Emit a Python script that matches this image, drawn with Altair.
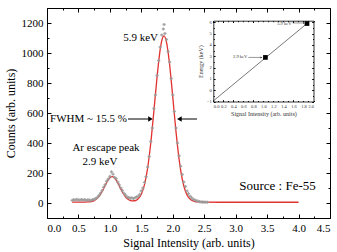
import altair as alt
import pandas as pd

# ---- Fe-55 pulse-height spectrum: fitted curve -------------------------
fit_x = [0.40, 0.45, 0.50, 0.55, 0.60, 0.65, 0.70, 0.75, 0.80, 0.85, 0.90,
         0.95, 0.975, 1.00, 1.035, 1.07, 1.10, 1.15, 1.20, 1.25, 1.30, 1.35,
         1.40, 1.45, 1.50, 1.55, 1.60, 1.65, 1.70, 1.75, 1.80, 1.83, 1.86,
         1.90, 1.95, 2.00, 2.05, 2.10, 2.15, 2.20, 2.25, 2.30, 2.35, 2.40,
         2.50, 2.75, 3.00, 3.25, 3.50, 3.75, 4.00]
fit_counts = [6, 6, 6, 6, 6, 7, 9, 16, 31, 58, 96,
              138, 156, 169, 176, 169, 153, 113, 72, 40, 22, 14,
              15, 28, 59, 122, 233, 400, 614, 840, 1024, 1091, 1114,
              1073, 922, 705, 481, 293, 160, 80, 37, 18, 10, 7,
              6, 5, 5, 5, 5, 5, 5]

# ---- measured counts -------------------------------------------------
sig_x = [0.400, 0.425, 0.450, 0.475, 0.500, 0.525, 0.550, 0.575, 0.600,
         0.625, 0.650, 0.675, 0.700, 0.725, 0.750, 0.775, 0.800, 0.825,
         0.850, 0.875, 0.900, 0.925, 0.950, 0.975, 1.000, 1.025, 1.050,
         1.075, 1.100, 1.125, 1.150, 1.175, 1.200, 1.225, 1.250, 1.275,
         1.300, 1.325, 1.350, 1.375, 1.400, 1.425, 1.450, 1.475, 1.500,
         1.525, 1.550, 1.575, 1.600, 1.625, 1.650, 1.675, 1.700, 1.725,
         1.750, 1.775, 1.800, 1.825, 1.850, 1.862, 1.875, 1.900, 1.925,
         1.950, 1.975, 2.000, 2.025, 2.050, 2.075, 2.100, 2.125, 2.150,
         2.175, 2.200, 2.225, 2.250, 2.275, 2.300, 2.325, 2.350, 2.375,
         2.400, 2.425, 2.450, 2.475, 2.500, 2.525, 2.550]
sig_counts = [18, 22, 20, 24, 19, 21, 23, 20, 22,
              18, 21, 19, 17, 22, 24, 30, 38, 50,
              65, 82, 104, 122, 145, 160, 178, 208, 192,
              170, 162, 140, 121, 100, 82, 64, 52, 40,
              36, 32, 34, 30, 36, 40, 46, 58, 80,
              100, 138, 175, 240, 310, 410, 500, 630, 720,
              850, 950, 1040, 1120, 1160, 1190, 1130, 1090, 1010,
              940, 830, 720, 610, 500, 400, 315, 245, 190,
              140, 110, 80, 62, 45, 34, 25, 20, 14,
              12, 9, 8, 6, 6, 5, 5]

# ---- inset: energy calibration -----------------------------------------
cal_signal = [1.04, 1.87]
cal_energy = [2.9, 5.9]
cal_line_signal = [0.0, 1.87]
cal_line_energy = [-0.95, 5.9]

# ---- axis tick positions ---------------------------------------------
x_major = [0.0, 0.5, 1.0, 1.5, 2.0, 2.5, 3.0, 3.5, 4.0, 4.5]
x_ticks = [0.0, 0.25, 0.5, 0.75, 1.0, 1.25, 1.5, 1.75, 2.0, 2.25, 2.5, 2.75,
           3.0, 3.25, 3.5, 3.75, 4.0, 4.25, 4.5]
y_major = [0, 200, 400, 600, 800, 1000, 1200]
y_ticks = [-100, 0, 100, 200, 300, 400, 500, 600, 700, 800, 900, 1000,
           1100, 1200, 1300]
ix_major = [0.0, 0.2, 0.4, 0.6, 0.8, 1.0, 1.2, 1.4, 1.6, 1.8, 2.0]
ix_ticks = [0.0, 0.1, 0.2, 0.3, 0.4, 0.5, 0.6, 0.7, 0.8, 0.9, 1.0, 1.1, 1.2,
            1.3, 1.4, 1.5, 1.6, 1.7, 1.8, 1.9, 2.0]
iy_major = [-1, 0, 1, 2, 3, 4, 5, 6]
iy_ticks = [-1, -0.5, 0, 0.5, 1, 1.5, 2, 2.5, 3, 3.5, 4, 4.5, 5, 5.5, 6]

W, H = 283, 210
FONT = "Liberation Serif"
RED = "#e0322f"

fit = pd.DataFrame({"x": fit_x, "c": fit_counts})
sig = pd.DataFrame({"x": sig_x, "c": sig_counts})

xs = alt.Scale(domain=[0, 4.5], nice=False, zero=False)
ys = alt.Scale(domain=[-100, 1300], nice=False, zero=False)


def tick_size(step, big, small):
    return {"condition": {"test": f"datum.value % {step} != 0", "value": small},
            "value": big}


# ---- main spectrum ---------------------------------------------------
curve = alt.Chart(fit).mark_line(color=RED, strokeWidth=1.3,
                                 interpolate="monotone").encode(
    x=alt.X("x:Q", scale=xs, axis=None),
    y=alt.Y("c:Q", scale=ys, axis=None),
)

points = alt.Chart(sig).mark_point(shape="cross", filled=True, size=10,
                                   color="#9a9a9a", opacity=0.9).encode(
    x=alt.X("x:Q", scale=xs, axis=None),
    y=alt.Y("c:Q", scale=ys, axis=None),
)


def label(df, **kw):
    return alt.Chart(pd.DataFrame(df)).mark_text(
        font=FONT, baseline="middle", color="black", **kw).encode(
        x=alt.X("x:Q", scale=xs, axis=None),
        y=alt.Y("c:Q", scale=ys, axis=None),
        text="t:N",
    )


lbl_peak = label({"x": [1.765], "c": [1100], "t": ["5.9 keV"]},
                 align="right", fontSize=11)
lbl_fwhm = label({"x": [0.048], "c": [560], "t": ["FWHM ~ 15.5 %"]},
                 align="left", fontSize=11)
lbl_esc = label({"x": [0.938, 0.843], "c": [367, 273],
                 "t": ["Ar escape peak", "2.9 keV"]},
                align="center", fontSize=11)
lbl_src = label({"x": [3.665], "c": [113], "t": ["Source : Fe-55"]},
                align="center", fontSize=13)

arrows = pd.DataFrame({"x": [1.288, 2.385], "x2": [1.64, 2.11],
                       "c": [560, 560]})
arrow_lines = alt.Chart(arrows).mark_rule(color="black", strokeWidth=1).encode(
    x=alt.X("x:Q", scale=xs, axis=None), x2="x2:Q",
    y=alt.Y("c:Q", scale=ys, axis=None))
head_r = alt.Chart(pd.DataFrame({"x": [1.645], "c": [560]})).mark_point(
    shape="triangle-right", filled=True, size=28, color="black",
    opacity=1).encode(x=alt.X("x:Q", scale=xs, axis=None),
                      y=alt.Y("c:Q", scale=ys, axis=None))
head_l = alt.Chart(pd.DataFrame({"x": [2.105], "c": [560]})).mark_point(
    shape="triangle-left", filled=True, size=28, color="black",
    opacity=1).encode(x=alt.X("x:Q", scale=xs, axis=None),
                      y=alt.Y("c:Q", scale=ys, axis=None))

main = alt.layer(curve, points, arrow_lines, head_r, head_l,
                 lbl_peak, lbl_fwhm, lbl_esc, lbl_src)


# ---- axis-only layers (labels, and inward ticks on every side) ----------
def axis_layer(df, xf, yf, xs_, ys_, xaxis, yaxis):
    return alt.Chart(df).mark_point(opacity=0).encode(
        x=alt.X(xf, scale=xs_, axis=xaxis),
        y=alt.Y(yf, scale=ys_, axis=yaxis))


def tick_axis(orient, offset, values, size, step, domain=False):
    return alt.Axis(orient=orient, offset=offset, values=values,
                    labels=False, title=None, grid=False, domain=domain,
                    domainColor="black", domainWidth=0.8,
                    tickColor="black", tickWidth=1,
                    tickSize=tick_size(step, size[0], size[1]))


main_labels = axis_layer(
    fit, "x:Q", "c:Q", xs, ys,
    alt.Axis(orient="bottom", values=x_major, format=".1f", ticks=False,
             domain=False, grid=False, labelFontSize=11, labelPadding=4,
             labelFont=FONT, labelColor="black",
             title="Signal Intensity (arb. units)", titleFont=FONT,
             titleFontSize=12, titleFontWeight="normal", titlePadding=4,
             titleColor="black"),
    alt.Axis(orient="left", values=y_major, format="d", ticks=False,
             domain=False, grid=False, labelFontSize=11, labelPadding=4,
             labelFont=FONT, labelColor="black",
             title="Counts (arb. units)", titleFont=FONT,
             titleFontSize=12, titleFontWeight="normal", titlePadding=4,
             titleColor="black"))
main_ticks_bl = axis_layer(
    fit, "x:Q", "c:Q", xs, ys,
    tick_axis("top", -H, x_ticks, (4, 2), 0.5),
    tick_axis("right", -W, y_ticks, (4, 2), 200))
main_ticks_tr = axis_layer(
    fit, "x:Q", "c:Q", xs, ys,
    tick_axis("bottom", -H, x_ticks, (4, 2), 0.5),
    tick_axis("left", -W, y_ticks, (4, 2), 200))

# ---- inset: calibration line --------------------------------------------
X0, X1, YT, YB = 166.3, 266.5, 12.7, 93.5
ixs = alt.Scale(domain=[0, 2], range=[X0, X1], nice=False, zero=False)
iys = alt.Scale(domain=[-1, 6.15], range=[YB, YT], nice=False, zero=False)

cal = pd.DataFrame({"s": cal_signal, "e": cal_energy})
cal_line = pd.DataFrame({"s": cal_line_signal, "e": cal_line_energy})

inset_line = alt.Chart(cal_line).mark_line(color="#555555",
                                           strokeWidth=0.8).encode(
    x=alt.X("s:Q", scale=ixs, axis=None),
    y=alt.Y("e:Q", scale=iys, axis=None),
)
inset_pts = alt.Chart(cal).mark_square(size=22, color="black",
                                       opacity=1).encode(
    x=alt.X("s:Q", scale=ixs, axis=None),
    y=alt.Y("e:Q", scale=iys, axis=None))

inset_text = alt.Chart(pd.DataFrame({
    "s": [0.68, 1.56], "e": [2.9, 5.9], "t": ["2.9 keV", "5.9 keV"]})
).mark_text(font=FONT, fontSize=4.5, align="right", baseline="middle",
            color="#333333").encode(
    x=alt.X("s:Q", scale=ixs, axis=None),
    y=alt.Y("e:Q", scale=iys, axis=None), text="t:N")

inset_arrows = pd.DataFrame({"s": [0.70, 1.58], "s2": [0.96, 1.81],
                             "e": [2.9, 5.95]})
inset_arrow_lines = alt.Chart(inset_arrows).mark_rule(
    color="#333333", strokeWidth=0.5).encode(
    x=alt.X("s:Q", scale=ixs, axis=None), x2="s2:Q",
    y=alt.Y("e:Q", scale=iys, axis=None))
inset_heads = alt.Chart(pd.DataFrame({"s": [0.96, 1.81], "e": [2.9, 5.95]})
                        ).mark_point(shape="triangle-right", filled=True,
                                     size=4, color="#333333",
                                     opacity=1).encode(
    x=alt.X("s:Q", scale=ixs, axis=None),
    y=alt.Y("e:Q", scale=iys, axis=None))

inset = alt.layer(inset_line, inset_arrow_lines, inset_heads, inset_pts,
                  inset_text)

inset_labels = axis_layer(
    cal, "s:Q", "e:Q", ixs, iys,
    alt.Axis(orient="bottom", offset=YB - H, values=ix_major, format=".1f",
             ticks=False, domain=False, grid=False, labelFont=FONT,
             labelFontSize=4.5, labelPadding=1.5, labelColor="#333333",
             title="Signal Intensity (arb. units)", titleFont=FONT,
             titleFontSize=6, titleFontWeight="normal", titlePadding=3,
             titleColor="#333333"),
    alt.Axis(orient="left", offset=-X0, values=iy_major, format="d",
             ticks=False, domain=False, grid=False, labelFont=FONT,
             labelFontSize=4.5, labelPadding=2, labelColor="#333333",
             title="Energy (keV)", titleFont=FONT, titleFontSize=6,
             titleFontWeight="normal", titlePadding=3,
             titleColor="#333333"))
inset_ticks_bl = axis_layer(
    cal, "s:Q", "e:Q", ixs, iys,
    tick_axis("top", -YB, ix_ticks, (1.8, 1), 0.2, domain=True),
    tick_axis("right", X0 - W, iy_ticks, (1.8, 1), 1, domain=True))
inset_ticks_tr = axis_layer(
    cal, "s:Q", "e:Q", ixs, iys,
    tick_axis("bottom", YT - H, ix_ticks, (1.8, 1), 0.2, domain=True),
    tick_axis("left", -X1, iy_ticks, (1.8, 1), 1, domain=True))

chart = alt.layer(
    main, main_labels, main_ticks_bl, main_ticks_tr,
    inset, inset_labels, inset_ticks_bl, inset_ticks_tr
).resolve_scale(x="independent", y="independent").properties(
    width=W, height=H,
    autosize=alt.AutoSizeParams(type="none"),
    padding={"left": 47, "top": 8, "right": 7, "bottom": 34},
    background="white",
).configure_view(stroke="black", strokeWidth=1).configure_axis(
    labelFont=FONT, titleFont=FONT)

chart.save("out.html", embed_options={"renderer": "svg", "actions": False})
